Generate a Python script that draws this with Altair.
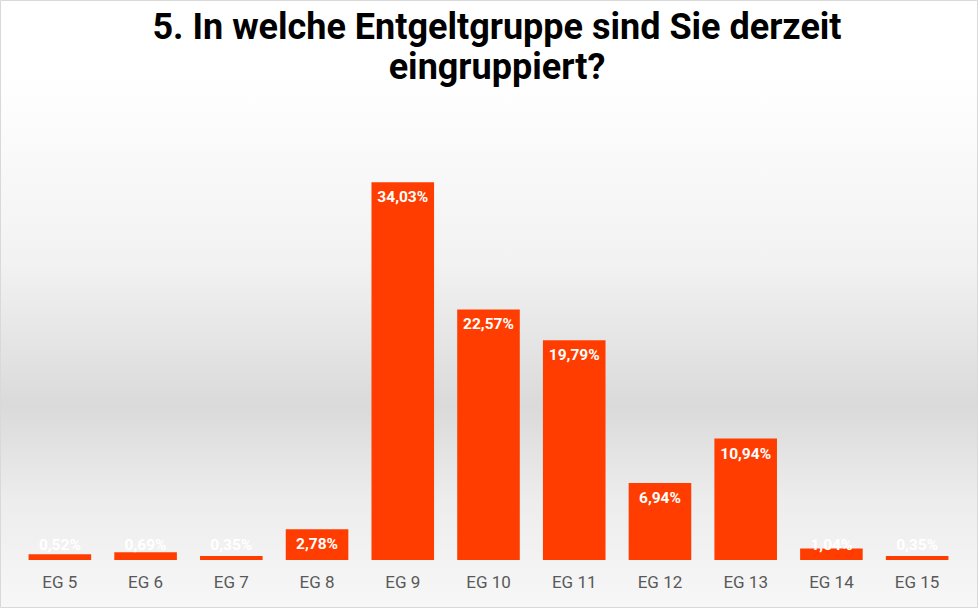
import altair as alt
import pandas as pd

categories = ["EG 5", "EG 6", "EG 7", "EG 8", "EG 9", "EG 10", "EG 11", "EG 12", "EG 13", "EG 14", "EG 15"]
values = [0.52, 0.69, 0.35, 2.78, 34.03, 22.57, 19.79, 6.94, 10.94, 1.04, 0.35]
title_lines = ["5. In welche Entgeltgruppe sind Sie derzeit", "eingruppiert?"]

df = pd.DataFrame({"cat": categories, "v": values})

W, H = 943, 444
PL, PT = 17, 116
YMAX = 40

one = pd.DataFrame({"a": [0]})

bg = alt.Chart(one).mark_rect(
    color=alt.LinearGradient(
        gradient="linear", x1=0, y1=0, x2=0, y2=1,
        stops=[
            alt.GradientStop(offset=0, color="#ffffff"),
            alt.GradientStop(offset=0.35, color="#f2f2f2"),
            alt.GradientStop(offset=0.62, color="#dadada"),
            alt.GradientStop(offset=0.8, color="#ededed"),
            alt.GradientStop(offset=1, color="#f7f7f7"),
        ],
    )
).encode(
    x=alt.value(-PL), x2=alt.value(978 - PL),
    y=alt.value(-40), y2=alt.value(608 - PT)
)

border = alt.Chart(one).mark_rect(
    fill=None, stroke="#d9d9d9", strokeWidth=1
).encode(
    x=alt.value(-PL + 0.5), x2=alt.value(978 - PL - 0.5),
    y=alt.value(-PT + 0.5), y2=alt.value(608 - PT - 0.5)
)

tdf = pd.DataFrame({"t": title_lines, "i": [0, 1]})
title = alt.Chart(tdf).transform_calculate(
    py="-88 + datum.i * 40"
).mark_text(font="Roboto", fontSize=36, fontWeight="bold", color="#000000",
            align="center", baseline="middle").encode(
    x=alt.value(497 - PL),
    y=alt.Y("py:Q", scale=None),
    text="t:N",
)

base = alt.Chart(df)
xenc = alt.X("cat:N", sort=categories, title=None,
             scale=alt.Scale(paddingInner=0.27, paddingOuter=0.135),
             axis=alt.Axis(domain=False, ticks=False, labelAngle=0, labelFontSize=17,
                           labelColor="#595959", labelFont="Roboto", labelPadding=14,
                           zindex=2))

bars = base.mark_bar(color="#ff3d00").encode(
    x=xenc,
    y=alt.Y("v:Q", scale=alt.Scale(domain=[0, YMAX]), axis=None),
)

labels = base.transform_calculate(
    lab="replace(format(datum.v, '.2f'), '.', ',') + '%'",
    ly="max(datum.v - 1.35, 1.35)",
).mark_text(color="white", fontWeight="bold", fontSize=15.5, font="Roboto", baseline="middle").encode(
    x=alt.X("cat:N", sort=categories),
    y=alt.Y("ly:Q", scale=alt.Scale(domain=[0, YMAX])),
    text="lab:N",
)

chart = alt.layer(bg, border, title, bars, labels).properties(
    width=W, height=H,
    autosize=alt.AutoSizeParams(type="none"),
    padding={"left": PL, "top": PT, "right": 978 - PL - W, "bottom": 608 - PT - H},
    background="white",
).configure_view(stroke=None)

chart.save("out.html", embed_options={"renderer": "svg", "actions": False})
